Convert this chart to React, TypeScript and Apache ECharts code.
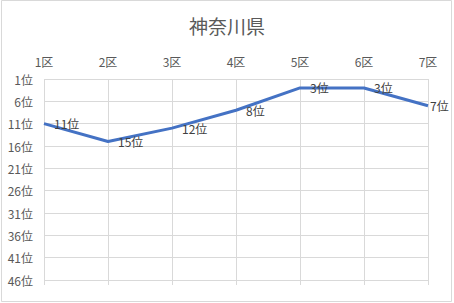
import React, { useEffect, useRef } from "react";
import * as echarts from "echarts";

const title = "神奈川県";
const categories = ["1区", "2区", "3区", "4区", "5区", "6区", "7区"];
const ranks = [11, 15, 12, 8, 3, 3, 7];
const rankMin = 1;
const rankMax = 46;
const rankStep = 5;

export default function App() {
  const ref = useRef<HTMLDivElement>(null);
  useEffect(() => {
    if (!ref.current) return;
    const chart = echarts.init(ref.current, null, { renderer: "svg" });
    const font = '"Noto Sans CJK JP", "Noto Sans", sans-serif';
    const last = ranks.length - 1;
    chart.setOption({
      animation: false,
      title: {
        text: title,
        left: "center",
        top: 11,
        textStyle: { fontFamily: font, fontSize: 19, fontWeight: "normal", color: "#595959" },
      },
      graphic: [
        {
          type: "rect",
          shape: { x: 1.5, y: 0.5, width: 450, height: 301 },
          style: { fill: "none", stroke: "#d9d9d9", lineWidth: 1 },
          silent: true,
        },
      ],
      grid: { left: 44, right: 26, top: 79, bottom: 23 },
      xAxis: [
        {
          type: "category",
          position: "top",
          data: categories,
          boundaryGap: false,
          axisLine: { show: false },
          axisTick: { show: false },
          axisLabel: { margin: 12, fontFamily: font, fontSize: 12, color: "#595959" },
          splitLine: { show: true, lineStyle: { color: "#d9d9d9", width: 1 } },
        },
        {
          type: "category",
          position: "bottom",
          data: categories,
          boundaryGap: false,
          axisLine: { show: false },
          axisTick: { show: true, length: 5, lineStyle: { color: "#d9d9d9" } },
          axisLabel: { show: false },
          splitLine: { show: false },
        },
      ],
      yAxis: {
        type: "value",
        inverse: true,
        min: 0,
        max: rankMax - rankMin,
        interval: rankStep,
        axisLine: { show: false },
        axisTick: { show: false },
        axisLabel: {
          margin: 11,
          fontFamily: font,
          fontSize: 12,
          color: "#595959",
          formatter: (v: number) => `${v + rankMin}位`,
        },
        splitLine: { show: true, lineStyle: { color: "#d9d9d9", width: 1 } },
      },
      series: [
        {
          type: "line",
          xAxisIndex: 0,
          data: ranks.map((r, i) =>
            i === last ? { value: r - rankMin, label: { distance: 2 } } : r - rankMin
          ),
          symbol: "circle",
          symbolSize: 0,
          showSymbol: true,
          clip: false,
          lineStyle: { color: "#4472C4", width: 3 },
          itemStyle: { color: "#4472C4" },
          label: {
            show: true,
            position: "right",
            distance: 10,
            opacity: 1,
            fontFamily: font,
            fontSize: 12,
            color: "#404040",
            formatter: (p: any) => `${ranks[p.dataIndex]}位`,
          },
        },
      ],
    });
    return () => chart.dispose();
  }, []);
  return (
    <div
      ref={ref}
      style={{ position: "fixed", left: 0, top: 0, width: 454, height: 303, background: "#fff" }}
    />
  );
}
